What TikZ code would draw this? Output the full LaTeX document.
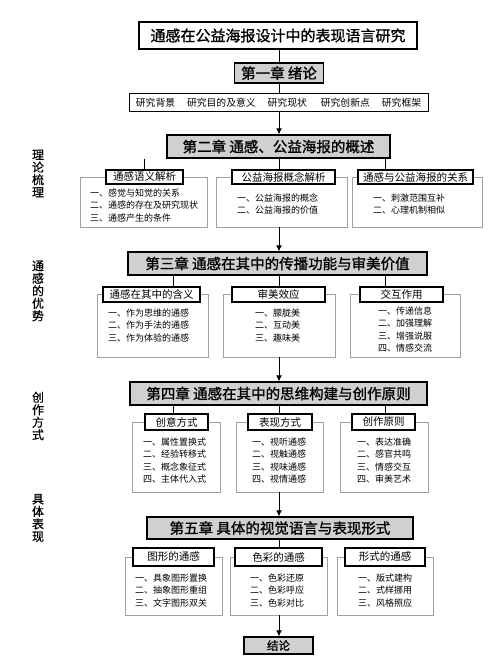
\documentclass[tikz,border=0pt]{standalone}
\usepackage{fontspec}
\setmainfont{Noto Sans CJK SC}
\newfontfamily\heavyfont[FakeBold=1.2]{Noto Sans CJK SC}
\newfontfamily\semifont[FakeBold=0.6]{Noto Sans CJK SC}
\usepackage{xcolor}
\usetikzlibrary{arrows.meta}
\definecolor{chapgray}{RGB}{208,208,208}
\definecolor{framegray}{RGB}{160,160,160}
\tikzset{
    title-box/.style = {draw=black, fill=white, line width=1.3pt, rectangle, inner sep=0pt, font=\heavyfont\fontsize{15}{17}\selectfont},
    chapter-box/.style = {draw=black, fill=chapgray, line width=1.3pt, rectangle, inner sep=0pt, font=\heavyfont\fontsize{14.5}{16}\selectfont},
    list-box/.style = {draw=black, fill=white, line width=1pt, rectangle, inner sep=0pt, font=\fontsize{9.8}{12}\selectfont},
    frame-box/.style = {draw=framegray, fill=white, line width=0.6pt, rectangle, inner sep=0pt},
    sub-title/.style = {draw=black, fill=white, line width=1.1pt, rectangle, inner sep=0pt, font=\fontsize{10.5}{12}\selectfont},
    item-list/.style = {anchor=north west, align=left, inner sep=0pt, font=\fontsize{9}{12.5}\selectfont},
    side-label/.style = {align=center, inner sep=0pt, font=\semifont\fontsize{12}{12.5}\selectfont},
    spine/.style = {line width=1pt},
    flow-arrow/.style = {line width=1pt, -{Latex[length=6pt,width=6pt]}},
}

\begin{document}
\begin{tikzpicture}[x=1pt, y=-1pt]
\useasboundingbox[fill=white] (0,0) rectangle (500,666);

% column lines
\coordinate (colL) at (173,0);
\coordinate (colM) at (279,0);
\coordinate (colR) at (385,0);

% top
\node[title-box, minimum width=278pt, minimum height=27pt] (title) at (278,35.5) {通感在公益海报设计中的表现语言研究};
\node[chapter-box, minimum width=89pt, minimum height=20pt] (ch1) at (279,73) {第一章 绪论};
\node[list-box, minimum width=299pt, minimum height=18pt] (intro) at (278.5,103) {研究背景\hspace{12pt}研究目的及意义\hspace{12pt}研究现状\hspace{14pt}研究创新点\hspace{12pt}研究框架};
\draw[spine] (title.south -| colM) -- (ch1.north -| colM);
\draw[spine] (ch1.south -| colM) -- (intro.north -| colM);

% chapter 2
\node[chapter-box, minimum width=223pt, minimum height=23pt] (ch2) at (278.5,146.5) {第二章 通感、公益海报的概述};
\draw[flow-arrow] (intro.south -| colM) -- (ch2.north -| colM);
\node[frame-box, minimum width=127pt, minimum height=50pt] (f21) at (143.5,202) {};
\node[frame-box, minimum width=131pt, minimum height=50pt] (f22) at (281.5,202) {};
\node[frame-box, minimum width=130pt, minimum height=50pt] (f23) at (417,202) {};
\node[sub-title, minimum width=77pt, minimum height=14pt] (h21) at (144.5,177) {通感语义解析};
\node[sub-title, minimum width=103pt, minimum height=14pt] (h22) at (283.5,177) {公益海报概念解析};
\node[sub-title, minimum width=115pt, minimum height=14pt] (h23) at (415.5,177) {通感与公益海报的关系};
\draw[spine] (ch2.south -| h21.north) -- (h21.north);
\draw[spine] (ch2.south -| colM) -- (h22.north -| colM);
\draw[spine] (ch2.south -| colR) -- (h23.north -| colR);
\node[item-list] (i21) at (90,188.5) {一、感觉与知觉的关系\\二、通感的存在及研究现状\\三、通感产生的条件};
\node[item-list] (i22) at (237,193.5) {一、公益海报的概念\\二、公益海报的价值};
\node[item-list] (i23) at (373,193.5) {一、刺激范围互补\\二、心理机制相似};

% chapter 3
\node[chapter-box, minimum width=299pt, minimum height=23pt] (ch3) at (277.5,263.5) {第三章 通感在其中的传播功能与审美价值};
\draw[flow-arrow] (f22.south -| colM) -- (ch3.north -| colM);
\node[frame-box, minimum width=111pt, minimum height=62.5pt] (f31) at (152.5,325.75) {};
\node[frame-box, minimum width=112pt, minimum height=62.5pt] (f32) at (279,325.75) {};
\node[frame-box, minimum width=110pt, minimum height=62.5pt] (f33) at (405,325.75) {};
\node[sub-title, minimum width=97pt, minimum height=15pt] (h31) at (151.5,294.5) {通感在其中的含义};
\node[sub-title, minimum width=93pt, minimum height=15pt] (h32) at (278.5,294.5) {审美效应};
\node[sub-title, minimum width=83pt, minimum height=15pt] (h33) at (401.5,294.5) {交互作用};
\draw[spine] (ch3.south -| colL) -- (h31.north -| colL);
\draw[spine] (ch3.south -| colM) -- (h32.north -| colM);
\draw[spine] (ch3.south -| colR) -- (h33.north -| colR);
\node[item-list] (i31) at (108,308.5) {一、作为思维的通感\\二、作为手法的通感\\三、作为体验的通感};
\node[item-list] (i32) at (255,308.5) {一、朦胧美\\二、互动美\\三、趣味美};
\node[item-list] (i33) at (378,306.5) {一、传递信息\\二、加强理解\\三、增强说服\\四、情感交流};

% chapter 4
\node[chapter-box, minimum width=297pt, minimum height=23pt] (ch4) at (278.5,393.5) {第四章 通感在其中的思维构建与创作原则};
\draw[flow-arrow] (f32.south -| colM) -- (ch4.north -| colM);
\node[frame-box, minimum width=88pt, minimum height=70pt] (f41) at (176,457) {};
\node[frame-box, minimum width=87pt, minimum height=70pt] (f42) at (279.5,457) {};
\node[frame-box, minimum width=88pt, minimum height=70pt] (f43) at (384,457) {};
\node[sub-title, minimum width=63pt, minimum height=16pt] (h41) at (176.5,422) {创意方式};
\node[sub-title, minimum width=64pt, minimum height=16pt] (h42) at (280,422) {表现方式};
\node[sub-title, minimum width=63pt, minimum height=16pt] (h43) at (383.5,422) {创作原则};
\draw[spine] (ch4.south -| colL) -- (h41.north -| colL);
\draw[spine] (ch4.south -| colM) -- (h42.north -| colM);
\draw[spine] (ch4.south -| colR) -- (h43.north -| colR);
\node[item-list] (i41) at (143,437.5) {一、属性置换式\\二、经验转移式\\三、概念象征式\\四、主体代入式};
\node[item-list] (i42) at (252,437.5) {一、视听通感\\二、视触通感\\三、视味通感\\四、视情通感};
\node[item-list] (i43) at (357,437.5) {一、表达准确\\二、感官共鸣\\三、情感交互\\四、审美艺术};

% chapter 5
\node[chapter-box, minimum width=266pt, minimum height=22pt] (ch5) at (280,528) {第五章 具体的视觉语言与表现形式};
\draw[flow-arrow] (f42.south -| colM) -- (ch5.north -| colM);
\node[frame-box, minimum width=97pt, minimum height=58pt] (f51) at (173.5,586) {};
\node[frame-box, minimum width=97pt, minimum height=58pt] (f52) at (278.5,586) {};
\node[frame-box, minimum width=96pt, minimum height=58pt] (f53) at (385,586) {};
\node[sub-title, minimum width=81pt, minimum height=18pt] (h51) at (173.5,557) {图形的通感};
\node[sub-title, minimum width=87pt, minimum height=18pt] (h52) at (278.5,557) {色彩的通感};
\node[sub-title, minimum width=80pt, minimum height=18pt] (h53) at (385,557) {形式的通感};
\draw[spine] (ch5.south -| colM) -- (h52.north -| colM);
\node[item-list] (i51) at (135,573.5) {一、具象图形置换\\二、抽象图形重组\\三、文字图形双关};
\node[item-list] (i52) at (250,573.5) {一、色彩还原\\二、色彩呼应\\三、色彩对比};
\node[item-list] (i53) at (358,573.5) {一、版式建构\\二、式样挪用\\三、风格照应};

% conclusion
\node[chapter-box, minimum width=69pt, minimum height=17pt, font=\semifont\fontsize{11.5}{12}\selectfont] (end) at (278.5,645.5) {结论};
\draw[flow-arrow] (f52.south -| colM) -- (end.north -| colM);

% side labels
\node[side-label] (s1) at (38,173.5) {理\\论\\梳\\理};
\node[side-label] (s2) at (38,291) {通\\感\\的\\优\\势};
\node[side-label] (s3) at (38,416) {创\\作\\方\\式};
\node[side-label] (s4) at (38,518) {具\\体\\表\\现};
\end{tikzpicture}
\end{document}
